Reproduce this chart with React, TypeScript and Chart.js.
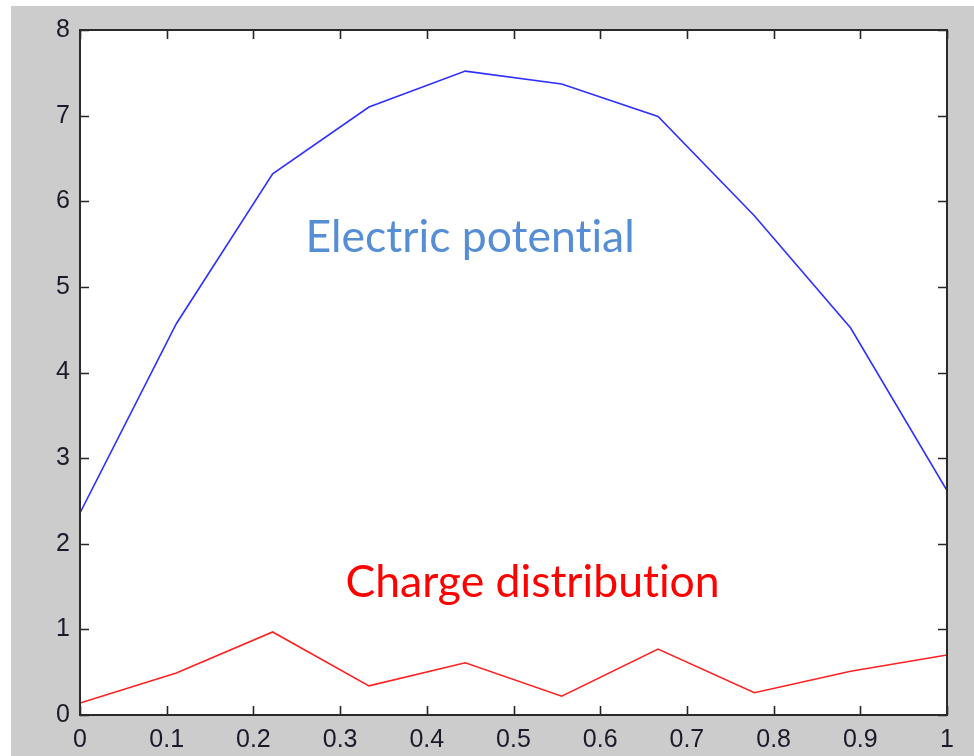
import { useEffect, useRef } from 'react';
import { Chart, registerables } from 'chart.js';

Chart.register(...registerables);

const xValues = [0, 0.1111, 0.2222, 0.3333, 0.4444, 0.5556, 0.6667, 0.7778, 0.8889, 1];
const potential = [2.36, 4.57, 6.32, 7.1, 7.52, 7.37, 6.99, 5.83, 4.52, 2.62];
const charge = [0.14, 0.49, 0.97, 0.34, 0.61, 0.22, 0.77, 0.26, 0.51, 0.7];
const xTicks = [0, 0.1, 0.2, 0.3, 0.4, 0.5, 0.6, 0.7, 0.8, 0.9, 1];
const yTicks = [0, 1, 2, 3, 4, 5, 6, 7, 8];
const labels = [
  { text: 'Electric potential', x: 0.45, y: 5.41, color: '#558ed5' },
  { text: 'Charge distribution', x: 0.522, y: 1.38, color: '#ff0000' },
];

const W = 974;
const H = 756;

const framePlugin = {
  id: 'frame',
  beforeDraw(chart: any) {
    const { ctx, chartArea: a } = chart;
    ctx.save();
    ctx.fillStyle = '#ffffff';
    ctx.fillRect(a.left, a.top, a.right - a.left, a.bottom - a.top);
    ctx.restore();
  },
  afterDatasetsDraw(chart: any) {
    const { ctx, chartArea: a, scales } = chart;
    const xs = scales.x;
    const ys = scales.y;
    const tl = 9;
    ctx.save();
    ctx.strokeStyle = '#262626';
    ctx.lineWidth = 1.6;
    ctx.beginPath();
    xTicks.forEach((v) => {
      const px = Math.round(xs.getPixelForValue(v)) + 0.5;
      ctx.moveTo(px, a.bottom);
      ctx.lineTo(px, a.bottom - tl);
      ctx.moveTo(px, a.top);
      ctx.lineTo(px, a.top + tl);
    });
    yTicks.forEach((v) => {
      const py = Math.round(ys.getPixelForValue(v)) + 0.5;
      ctx.moveTo(a.left, py);
      ctx.lineTo(a.left + tl, py);
      ctx.moveTo(a.right, py);
      ctx.lineTo(a.right - tl, py);
    });
    ctx.stroke();
    ctx.lineWidth = 2;
    ctx.strokeStyle = '#2a2a2a';
    ctx.strokeRect(a.left, a.top, a.right - a.left, a.bottom - a.top);

    ctx.font = '44.5px Lato, "Open Sans", sans-serif';
    try {
      (ctx as any).textRendering = 'optimizeSpeed';
    } catch (e) {
      /* ignore */
    }
    ctx.textAlign = 'center';
    ctx.textBaseline = 'alphabetic';
    labels.forEach((l) => {
      ctx.fillStyle = l.color;
      ctx.fillText(l.text, xs.getPixelForValue(l.x), ys.getPixelForValue(l.y));
    });
    ctx.restore();
  },
};

export default function App() {
  const ref = useRef<HTMLCanvasElement | null>(null);

  useEffect(() => {
    document.body.style.margin = '0';
    if (!ref.current) return;
    const chart = new Chart(ref.current, {
      type: 'line',
      data: {
        datasets: [
          {
            label: 'Electric potential',
            data: xValues.map((x, i) => ({ x, y: potential[i] })),
            borderColor: '#2f2fff',
            borderWidth: 1.6,
            pointRadius: 0,
            tension: 0,
            fill: false,
          },
          {
            label: 'Charge distribution',
            data: xValues.map((x, i) => ({ x, y: charge[i] })),
            borderColor: '#ff2020',
            borderWidth: 1.6,
            pointRadius: 0,
            tension: 0,
            fill: false,
          },
        ],
      },
      options: {
        animation: false,
        responsive: false,
        maintainAspectRatio: false,
        layout: { padding: { top: 30, right: 27, left: 0, bottom: 0 } },
        plugins: { legend: { display: false }, tooltip: { enabled: false } },
        scales: {
          x: {
            type: 'linear',
            min: 0,
            max: 1,
            afterFit: (s: any) => {
              s.height = 41;
            },
            afterBuildTicks: (s: any) => {
              s.ticks = xTicks.map((v) => ({ value: v }));
            },
            grid: { display: false, drawTicks: false },
            border: { display: false },
            ticks: {
              padding: 10,
              color: '#1a1a2a',
              font: { family: '"Liberation Sans", Arial, sans-serif', size: 25 },
              maxRotation: 0,
              autoSkip: false,
              callback: (v: any) => String(Number(v)),
            },
          },
          y: {
            type: 'linear',
            min: 0,
            max: 8,
            afterFit: (s: any) => {
              s.width = 80;
            },
            afterBuildTicks: (s: any) => {
              s.ticks = yTicks.map((v) => ({ value: v }));
            },
            grid: { display: false, drawTicks: false },
            border: { display: false },
            ticks: {
              padding: 10,
              color: '#1a1a2a',
              font: { family: '"Liberation Sans", Arial, sans-serif', size: 25 },
              autoSkip: false,
              callback: (v: any) => String(Number(v)),
            },
          },
        },
      },
      plugins: [framePlugin],
    });
    return () => chart.destroy();
  }, []);

  return (
    <div style={{ position: 'relative', width: W, height: H, background: '#ffffff', overflow: 'hidden' }}>
      <div style={{ position: 'absolute', left: 11, top: 6, right: 0, bottom: 0, background: '#cccccc' }} />
      <canvas ref={ref} width={W} height={H} style={{ position: 'absolute', left: 0, top: 0, width: W, height: H }} />
    </div>
  );
}
